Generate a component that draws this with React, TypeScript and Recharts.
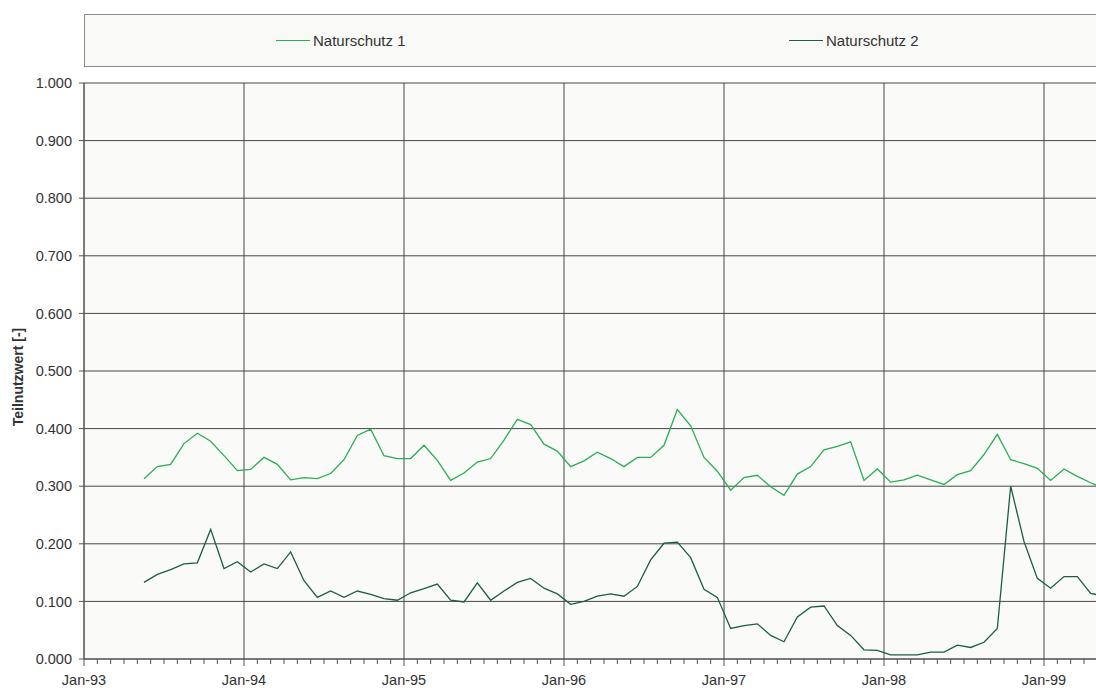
import React from 'react';
import { LineChart, Line, XAxis, YAxis, CartesianGrid, Legend, ReferenceLine } from 'recharts';

// Monthly observation dates (mid-month)
const months: string[] = [
  '1993-05', '1993-06', '1993-07', '1993-08', '1993-09', '1993-10', '1993-11', '1993-12',
  '1994-01', '1994-02', '1994-03', '1994-04', '1994-05', '1994-06', '1994-07', '1994-08', '1994-09', '1994-10', '1994-11', '1994-12',
  '1995-01', '1995-02', '1995-03', '1995-04', '1995-05', '1995-06', '1995-07', '1995-08', '1995-09', '1995-10', '1995-11', '1995-12',
  '1996-01', '1996-02', '1996-03', '1996-04', '1996-05', '1996-06', '1996-07', '1996-08', '1996-09', '1996-10', '1996-11', '1996-12',
  '1997-01', '1997-02', '1997-03', '1997-04', '1997-05', '1997-06', '1997-07', '1997-08', '1997-09', '1997-10', '1997-11', '1997-12',
  '1998-01', '1998-02', '1998-03', '1998-04', '1998-05', '1998-06', '1998-07', '1998-08', '1998-09', '1998-10', '1998-11', '1998-12',
  '1999-01', '1999-02', '1999-03', '1999-04', '1999-05',
];

const naturschutz1: number[] = [
  0.313, 0.334, 0.338, 0.374, 0.392, 0.378, 0.353, 0.327,
  0.329, 0.350, 0.338, 0.311, 0.315, 0.313, 0.322, 0.346, 0.388, 0.399, 0.353, 0.348,
  0.348, 0.371, 0.345, 0.310, 0.323, 0.342, 0.348, 0.380, 0.416, 0.407, 0.373, 0.361,
  0.334, 0.344, 0.359, 0.348, 0.334, 0.350, 0.350, 0.371, 0.433, 0.405, 0.350, 0.326,
  0.293, 0.315, 0.319, 0.299, 0.284, 0.321, 0.334, 0.363, 0.369, 0.377, 0.310, 0.330,
  0.307, 0.311, 0.319, 0.311, 0.303, 0.320, 0.327, 0.355, 0.390, 0.346, 0.339, 0.331,
  0.310, 0.330, 0.317, 0.306, 0.296,
];

const naturschutz2: number[] = [
  0.133, 0.147, 0.155, 0.165, 0.167, 0.225, 0.157, 0.169,
  0.151, 0.165, 0.157, 0.186, 0.136, 0.107, 0.118, 0.107, 0.118, 0.112, 0.105, 0.102,
  0.115, 0.122, 0.130, 0.102, 0.099, 0.132, 0.102, 0.118, 0.133, 0.140, 0.123, 0.113,
  0.095, 0.100, 0.109, 0.113, 0.109, 0.126, 0.172, 0.201, 0.203, 0.176, 0.121, 0.107,
  0.053, 0.058, 0.061, 0.041, 0.030, 0.073, 0.090, 0.092, 0.058, 0.041, 0.016, 0.015,
  0.007, 0.007, 0.007, 0.012, 0.012, 0.024, 0.020, 0.029, 0.053, 0.300, 0.204, 0.140,
  0.123, 0.143, 0.143, 0.114, 0.109,
];

const yearLabels: string[] = ['Jan-93', 'Jan-94', 'Jan-95', 'Jan-96', 'Jan-97', 'Jan-98', 'Jan-99', 'Jan-00'];
const yTicks: number[] = [0, 0.1, 0.2, 0.3, 0.4, 0.5, 0.6, 0.7, 0.8, 0.9, 1.0];

const seriesNames = ['Naturschutz 1', 'Naturschutz 2'];
const seriesColors = ['#2aae55', '#1b5e40'];

const START_YEAR = 1993;
const AXIS_MONTHS = 78;

// month offset from Jan-93 (mid-month position)
const toPos = (s: string) => {
  const [y, m] = s.split('-').map(Number);
  return (y - START_YEAR) * 12 + (m - 1) + 0.5;
};

const data = months.map((m, i) => ({ t: toPos(m), n1: naturschutz1[i], n2: naturschutz2[i] }));
const monthTicks = Array.from({ length: AXIS_MONTHS + 1 }, (_, i) => i);
const yearTicks = monthTicks.filter((v) => v % 12 === 0);

const FONT = '"Liberation Sans", Arial, Helvetica, sans-serif';
const TEXT = '#333333';
const GRID = '#474747';

const MonthTick = (props: any) => {
  const { x, y, payload } = props;
  const v = payload.value as number;
  const isYear = v % 12 === 0;
  return (
    <g>
      <line x1={x} y1={y} x2={x} y2={y + (isYear ? 7 : 5)} stroke="#555" strokeWidth={1} />
      {isYear && (
        <text x={x} y={y + 26} textAnchor="middle" fontSize={14.5} fill={TEXT} fontFamily={FONT}>
          {yearLabels[v / 12]}
        </text>
      )}
    </g>
  );
};

const renderLegend = () => (
  <div
    style={{
      position: 'relative',
      width: 1100,
      height: 53,
      boxSizing: 'border-box',
      background: '#f9f9f8',
      border: '1px solid #8a8a8a',
      fontFamily: FONT,
    }}
  >
    {seriesNames.map((name, i) => (
      <div
        key={name}
        style={{
          position: 'absolute',
          left: i === 0 ? 191 : 704,
          top: 14,
          height: 22,
          display: 'flex',
          alignItems: 'center',
          whiteSpace: 'nowrap',
        }}
      >
        <span style={{ display: 'inline-block', width: 34, height: 0, borderTop: `1.3px solid ${seriesColors[i]}` }} />
        <span style={{ marginLeft: 3, fontSize: 15, color: TEXT }}>{name}</span>
      </div>
    ))}
  </div>
);

export default function App() {
  return (
    <div style={{ position: 'absolute', left: 0, top: 0, width: 1096, height: 688, overflow: 'hidden', background: '#fff' }}>
      <LineChart width={1124} height={688} data={data} margin={{ top: 83, right: 0, bottom: 0, left: 0 }}>
        <CartesianGrid vertical={false} stroke={GRID} strokeWidth={1} fill="#fafaf8" fillOpacity={1} />
        {yearTicks.map((v) => (
          <ReferenceLine key={v} x={v} stroke={GRID} strokeWidth={1} ifOverflow="visible" />
        ))}
        <XAxis
          type="number"
          dataKey="t"
          domain={[0, AXIS_MONTHS]}
          ticks={monthTicks}
          interval={0}
          tickSize={0}
          tickMargin={0}
          tickLine={false}
          tick={<MonthTick />}
          height={29}
          axisLine={{ stroke: '#555' }}
          allowDataOverflow
        />
        <YAxis
          type="number"
          domain={[0, 1]}
          ticks={yTicks}
          interval={0}
          width={84}
          tickSize={5}
          tickMargin={7}
          tickLine={{ stroke: '#555' }}
          axisLine={{ stroke: '#555' }}
          tickFormatter={(v: number) => v.toFixed(3)}
          tick={{ fontSize: 14.5, fill: TEXT, fontFamily: FONT }}
          label={{
            content: () => (
              <text
                x={23}
                y={377}
                transform="rotate(-90, 23, 377)"
                textAnchor="middle"
                fontSize={14}
                fontWeight="bold"
                fill={TEXT}
                fontFamily={FONT}
              >
                Teilnutzwert [-]
              </text>
            ),
          }}
        />
        <Legend
          layout="vertical"
          align="center"
          verticalAlign="middle"
          wrapperStyle={{ top: 14, left: 84, width: 1100, height: 53 }}
          content={renderLegend}
        />
        <Line
          type="linear"
          dataKey="n1"
          name={seriesNames[0]}
          stroke={seriesColors[0]}
          strokeWidth={1.3}
          dot={false}
          isAnimationActive={false}
        />
        <Line
          type="linear"
          dataKey="n2"
          name={seriesNames[1]}
          stroke={seriesColors[1]}
          strokeWidth={1.3}
          dot={false}
          isAnimationActive={false}
        />
      </LineChart>
    </div>
  );
}
